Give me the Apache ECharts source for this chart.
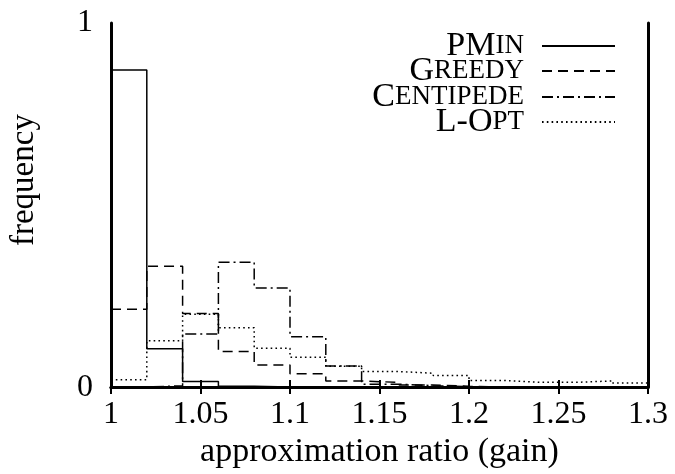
<!DOCTYPE html>
<html>
<head>
<meta charset="utf-8">
<script src="https://cdn.jsdelivr.net/npm/echarts@6/dist/echarts.min.js"></script>
<style>html,body{margin:0;padding:0;background:#fff;}#c{width:675px;height:474px;}</style>
</head>
<body>
<div id="c"></div>
<script>
// ---- data ----
const binEdges = [1.00, 1.02, 1.04, 1.06, 1.08, 1.10, 1.12, 1.14, 1.16, 1.18, 1.20, 1.22, 1.24, 1.26, 1.28, 1.30];
const seriesNames = ['PMin', 'Greedy', 'Centipede', 'L-Opt'];
const pmin      = [0.871, 0.105, 0.0155, 0.002, 0, 0, 0, 0, 0, 0, 0, 0, 0, 0, 0];
const greedy    = [0.214, 0.332, 0.202, 0.0975, 0.061, 0.037, 0.017, 0.013, 0.006, 0.002, 0, 0, 0, 0, 0];
const centipede = [0, 0.004, 0.146, 0.343, 0.272, 0.1385, 0.058, 0.008, 0.004, 0.001, 0, 0, 0, 0, 0];
const lopt      = [0.020, 0.127, 0.200, 0.163, 0.1066, 0.082, 0.057, 0.043, 0.038, 0.032, 0.018, 0.013, 0.013, 0.017, 0.011];
const xTickLabels = ['1', '1.05', '1.1', '1.15', '1.2', '1.25', '1.3'];
const yTickLabels = ['0', '1'];
const xName = 'approximation ratio (gain)';
const yName = 'frequency';

// ---- helpers ----
function toSteps(vals) {
  const pts = [];
  vals.forEach((v, i) => { pts.push([binEdges[i], v]); pts.push([binEdges[i + 1], v]); });
  return pts;
}
function smallCaps(name) {
  let out = '', cur = '', curType = null;
  for (const ch of name) {
    const t = (ch >= 'a' && ch <= 'z') ? 's' : 'b';
    if (t !== curType && cur) { out += '{' + curType + '|' + cur + '}'; cur = ''; }
    curType = t; cur += (t === 's' ? ch.toUpperCase() : ch);
  }
  if (cur) out += '{' + curType + '|' + cur + '}';
  return out;
}

const FONT = '"Liberation Serif", "Times New Roman", serif';
const dashes = {
  'PMin': 'solid',
  'Greedy': [10, 6],
  'Centipede': [11, 4, 2, 4],
  'L-Opt': [1.6, 3.2]
};
const dataMap = { 'PMin': pmin, 'Greedy': greedy, 'Centipede': centipede, 'L-Opt': lopt };
const legendTops = [29, 54, 80, 105];

const chart = echarts.init(document.getElementById('c'), null, { renderer: 'canvas' });

const axisLineStyle = { color: '#000', width: 3 };

chart.setOption({
  animation: false,
  backgroundColor: '#fff',
  grid: { left: 107, right: 27, top: 23, bottom: 85, containLabel: false },
  legend: seriesNames.map((n, i) => ({
    data: [n],
    orient: 'vertical',
    right: 59,
    top: legendTops[i],
    align: 'right',
    padding: 0,
    itemWidth: 73,
    itemHeight: 24,
    selectedMode: false,
    itemStyle: { opacity: 0, color: 'rgba(0,0,0,0)', borderWidth: 0 },
    formatter: name => smallCaps(name),
    textStyle: {
      color: '#000',
      fontFamily: FONT,
      padding: [0, 13, 0, 0],
      rich: {
        b: { fontFamily: FONT, fontSize: 34, color: '#000' },
        s: { fontFamily: FONT, fontSize: 27, color: '#000' }
      }
    }
  })),
  xAxis: [{
    type: 'value', min: 1, max: 1.3, interval: 0.05,
    name: xName, nameLocation: 'middle', nameGap: 41,
    nameTextStyle: { fontFamily: FONT, fontSize: 34, color: '#000' },
    axisLine: { show: true, lineStyle: axisLineStyle },
    axisTick: { show: true, inside: true, length: 7, lineStyle: { color: '#000', width: 2 } },
    axisLabel: {
      margin: 11, fontFamily: FONT, fontSize: 32, color: '#000',
      formatter: v => xTickLabels[Math.round((v - 1) / 0.05)]
    },
    splitLine: { show: false }
  }, {
    type: 'value', position: 'top', min: 1, max: 1.3, interval: 0.05,
    axisLine: { show: true, lineStyle: axisLineStyle },
    axisTick: { show: true, inside: true, length: 7, lineStyle: { color: '#000', width: 2 } },
    axisLabel: { show: false },
    splitLine: { show: false }
  }],
  yAxis: [{
    type: 'value', min: 0, max: 1, interval: 1,
    name: yName, nameLocation: 'middle', nameGap: 70,
    nameTextStyle: { fontFamily: FONT, fontSize: 33, color: '#000', padding: [0, 0, 0, 50] },
    axisLine: { show: true, lineStyle: axisLineStyle },
    axisTick: { show: false },
    axisLabel: {
      margin: 18, fontFamily: FONT, fontSize: 32, color: '#000',
      padding: [0, 0, 14, 0],
      formatter: v => yTickLabels[Math.round(v)]
    },
    splitLine: { show: false }
  }, {
    type: 'value', position: 'right', min: 0, max: 1, interval: 1,
    axisLine: { show: true, lineStyle: axisLineStyle },
    axisTick: { show: false },
    axisLabel: { show: false },
    splitLine: { show: false }
  }],
  series: seriesNames.map(n => ({
    name: n,
    type: 'line',
    xAxisIndex: 0, yAxisIndex: 0,
    data: toSteps(dataMap[n]),
    symbol: 'none',
    showSymbol: false,
    lineStyle: { color: '#000', width: 1.5, type: dashes[n] },
    itemStyle: { color: '#000' },
    z: 3
  }))
});
</script>
</body>
</html>
